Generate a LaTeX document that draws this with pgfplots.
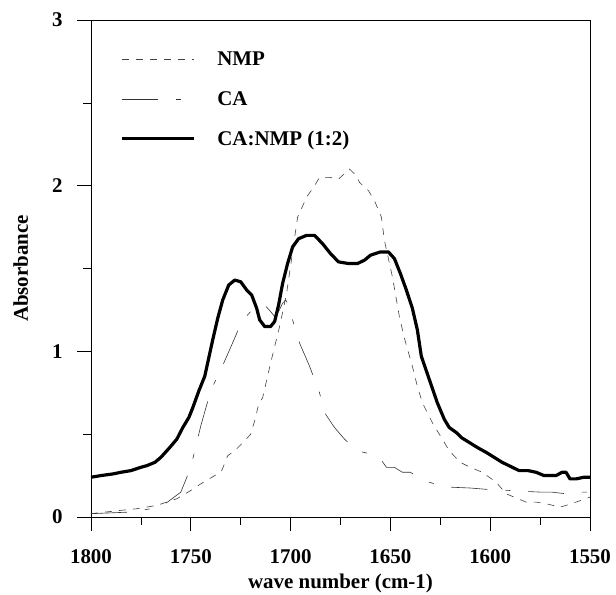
\documentclass[border=0pt]{standalone}
\usepackage{fontspec}
\setmainfont{Liberation Serif}
\usepackage{pgfplots}
\pgfplotsset{compat=1.18}
\pgfplotstableread{
x y
1800 0.02
1789 0.035
1777 0.05
1767 0.07
1757 0.11
1750 0.16
1745 0.20
1738 0.25
1734.5 0.28
1731.5 0.37
1728 0.40
1723 0.46
1720 0.50
1718 0.58
1716 0.68
1714 0.72
1710 0.93
1705.5 1.15
1702 1.35
1699 1.60
1696.5 1.81
1692 1.93
1688 2.00
1685.5 2.05
1680.5 2.05
1676 2.04
1670.5 2.10
1667 2.06
1665.5 2.02
1661 1.97
1658 1.91
1654.5 1.81
1653 1.67
1649 1.45
1645.5 1.21
1643 1.08
1639 0.91
1636.5 0.79
1634 0.69
1629 0.57
1623 0.45
1620.5 0.40
1615 0.33
1610 0.30
1604 0.27
1597 0.21
1592 0.14
1582 0.09
1577 0.09
1572 0.08
1565 0.06
1562 0.07
1557 0.09
1550 0.12
}\nmp
\pgfplotstableread{
x y
1800 0.02
1780 0.03
1765 0.06
1755 0.15
1750 0.30
1745 0.55
1741 0.72
1739 0.79
1736 0.86
1732 0.97
1728 1.08
1724.5 1.18
1720 1.24
1716 1.26
1713 1.28
1710 1.24
1708 1.21
1706 1.24
1704 1.29
1702.5 1.31
1701 1.28
1699 1.19
1695.5 1.05
1690.5 0.91
1685.5 0.75
1683 0.63
1678 0.54
1673 0.47
1669.5 0.43
1666.5 0.40
1660 0.38
1655.5 0.36
1652 0.30
1648 0.30
1644 0.27
1640 0.27
1634.5 0.23
1630.5 0.21
1625 0.19
1620 0.18
1610 0.175
1600 0.165
1590 0.16
1584 0.155
1574 0.15
1569 0.15
1562 0.14
1559 0.15
1550 0.15
}\ca
\pgfplotstableread{
x y
1800 0.24
1795 0.25
1789 0.26
1785 0.27
1780 0.28
1775 0.30
1772 0.31
1768 0.33
1765 0.36
1760.5 0.42
1757 0.47
1754 0.54
1751 0.60
1749 0.66
1746 0.76
1743 0.85
1741 0.96
1739 1.07
1736.5 1.20
1734 1.31
1731 1.40
1728 1.43
1725 1.42
1722 1.37
1719.5 1.34
1717 1.26
1715.5 1.19
1713 1.15
1710 1.15
1708 1.18
1706 1.28
1704 1.41
1701.5 1.53
1699 1.63
1696 1.68
1692 1.70
1688 1.70
1684 1.65
1680 1.59
1676 1.54
1671 1.53
1666.5 1.53
1663 1.55
1660 1.58
1655 1.60
1651 1.60
1648 1.56
1645 1.47
1642 1.37
1639 1.26
1636.5 1.13
1634.5 0.97
1630.5 0.83
1626.5 0.69
1623 0.59
1620.5 0.54
1617 0.51
1614.5 0.48
1610.5 0.45
1606.5 0.42
1602 0.39
1594 0.33
1585.5 0.28
1581 0.28
1577 0.27
1573 0.25
1567 0.25
1564 0.27
1562 0.27
1560 0.23
1557 0.23
1553 0.24
1550 0.24
}\mix
\begin{document}
\begin{tikzpicture}
\useasboundingbox (-91bp,-78bp) rectangle (525bp,517bp);
\begin{axis}[
  at={(0,0)}, anchor=south west,
  scale only axis, width=499bp, height=497bp,
  x dir=reverse, xmin=1550, xmax=1800, ymin=0, ymax=3,
  xtick={1550,1600,...,1800}, minor xtick={1575,1625,...,1775},
  ytick={0,1,2,3}, minor ytick={0.5,1.5,2.5},
  tick pos=left, tick align=outside,
  major tick length=14bp, minor tick length=8bp,
  tick style={black, line width=0.6pt},
  axis line style={line width=0.7pt},
  /pgf/number format/assume math mode=true,
  /pgf/number format/1000 sep={},
  tick label style={font=\bfseries\fontsize{21}{25}\selectfont},
  label style={font=\bfseries\fontsize{21}{25}\selectfont},
  yticklabel style={xshift=-11bp},
  xticklabel style={yshift=-15bp},
  xlabel={wave number (cm-1)}, ylabel={Absorbance},
  xlabel style={yshift=-4bp},
  ylabel style={yshift=17bp},
  legend style={at={(rel axis cs:0,1)}, anchor=north west, draw=none, fill=none,
    xshift=26bp, yshift=-28bp, font=\bfseries\fontsize{21}{25}\selectfont,
    row sep=20bp, cells={anchor=west},
    /tikz/every odd column/.append style={column sep=20bp}},
  legend image code/.code={\draw[#1] (0bp,0bp) -- (72bp,0bp);},
]
\addplot[black!75, line width=0.6pt, dash pattern=on 7bp off 7bp] table[x=x,y=y]{\nmp};
\addlegendentry{NMP}
\addplot[black!80, line width=0.6pt, dash pattern=on 36bp off 18bp on 5bp off 18bp] table[x=x,y=y]{\ca};
\addlegendentry{CA}
\addplot[black, line width=3.2pt, line join=round] table[x=x,y=y]{\mix};
\addlegendentry{CA:NMP (1:2)}
\end{axis}
\end{tikzpicture}
\end{document}
